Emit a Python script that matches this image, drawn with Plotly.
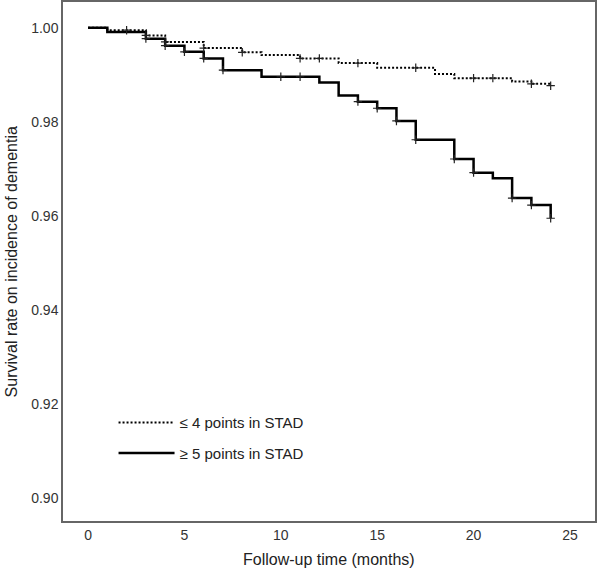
import numpy as np
import plotly.graph_objects as go

# Kaplan-Meier steps (time in months, survival)
low_t = [0, 1, 3, 4, 6, 8, 9, 11, 13, 15, 18, 19, 22, 23, 24]
low_s = [1.000, 0.9995, 0.9984, 0.9970, 0.9957, 0.9948, 0.9942, 0.9935,
         0.9925, 0.9915, 0.9902, 0.9893, 0.9886, 0.9881, 0.9877]
low_cens = [2, 3, 4, 6, 8, 11, 12, 14, 17, 20, 21, 23, 24]

high_t = [0, 1, 3, 4, 5, 6, 7, 9, 12, 13, 14, 15, 16, 17, 19, 20, 21, 22, 23, 24]
high_s = [1.000, 0.9991, 0.9977, 0.9962, 0.9949, 0.9935, 0.9910, 0.9896,
          0.9884, 0.9856, 0.9843, 0.9829, 0.9802, 0.9762, 0.9721, 0.9692,
          0.9680, 0.9638, 0.9623, 0.9595]
high_cens = [3, 4, 5, 6, 7, 10, 11, 14, 15, 16, 17, 19, 20, 22, 23, 24]

names = ["≤ 4 points in STAD", "≥ 5 points in STAD"]
x_ticks = [0, 5, 10, 15, 20, 25]
y_ticks = [0.90, 0.92, 0.94, 0.96, 0.98, 1.00]
x_title = "Follow-up time (months)"
y_title = "Survival rate on incidence of dementia"


def step_at(ts, ss, q):
    idx = np.searchsorted(np.array(ts), np.array(q), side="right") - 1
    return list(np.array(ss)[idx])


fig = go.Figure()
fig.add_trace(go.Scatter(x=low_t, y=low_s, mode="lines", line_shape="hv",
                         line=dict(color="black", width=2, dash="2px,2px"),
                         name=names[0], legendgroup="a"))
fig.add_trace(go.Scatter(x=high_t, y=high_s, mode="lines", line_shape="hv",
                         line=dict(color="black", width=2.5),
                         name=names[1], legendgroup="b"))
fig.add_trace(go.Scatter(x=low_cens, y=step_at(low_t, low_s, low_cens), mode="markers",
                         marker=dict(symbol="cross-thin", size=6, color="black",
                                     line=dict(color="#222222", width=1.2)),
                         showlegend=False, hoverinfo="skip"))
fig.add_trace(go.Scatter(x=high_cens, y=step_at(high_t, high_s, high_cens), mode="markers",
                         marker=dict(symbol="cross-thin", size=6, color="black",
                                     line=dict(color="#222222", width=1.2)),
                         showlegend=False, hoverinfo="skip"))

axis_common = dict(showline=True, mirror=True, linecolor="#666666", linewidth=1.5,
                   showgrid=False, zeroline=False, ticks="", automargin=False,
                   tickfont=dict(family="Liberation Sans, Arial", size=14, color="#333333"))

fig.update_layout(
    width=597, height=572,
    margin=dict(l=63, r=2, t=2, b=51),
    paper_bgcolor="white", plot_bgcolor="white",
    font=dict(family="Liberation Sans, Arial", color="#222222"),
    xaxis=dict(range=[-1.3, 26.3], tickvals=x_ticks, ticktext=[str(v) for v in x_ticks],
               **axis_common),
    yaxis=dict(range=[0.8951, 1.0055], tickvals=y_ticks,
               ticktext=[f"{v:.2f}" for v in y_ticks],
               **axis_common),
    legend=dict(x=0.095, y=0.221, xanchor="left", yanchor="top", itemwidth=56,
                font=dict(size=15, color="#222222"), tracegroupgap=8,
                bgcolor="rgba(0,0,0,0)"),
    annotations=[
        dict(text=x_title, xref="paper", yref="paper", x=0.5, y=-0.075,
             xanchor="center", yanchor="middle", showarrow=False,
             font=dict(size=16, color="#222222")),
        dict(text=y_title, xref="paper", yref="paper", x=-0.096, y=0.5,
             xanchor="center", yanchor="middle", textangle=-90, showarrow=False,
             font=dict(size=16, color="#222222")),
    ],
)

fig.write_html("out.html", config={"displayModeBar": False},
               post_script="document.body.style.margin='0';")
